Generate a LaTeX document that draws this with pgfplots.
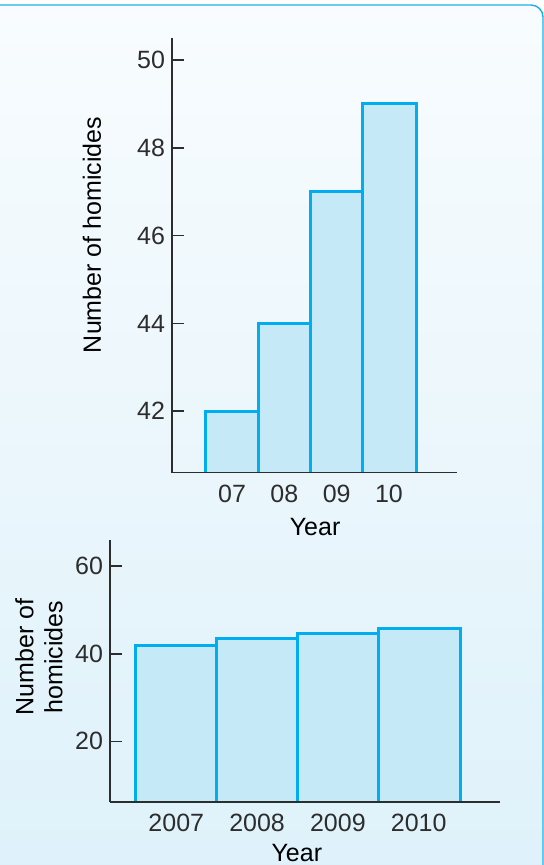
\documentclass[border=0pt]{standalone}
\usepackage{pgfplots}
\pgfplotsset{compat=1.18}
\usepackage{fontspec}
\setmainfont{Liberation Sans}
\definecolor{barfill}{RGB}{198,233,248}
\definecolor{baredge}{RGB}{0,174,239}
\definecolor{axgray}{RGB}{45,45,45}
\definecolor{bgtop}{RGB}{248,252,254}
\definecolor{bgbot}{RGB}{222,241,250}
\definecolor{framec}{RGB}{30,176,236}
\pgfplotsset{
 mystyle/.style={
  scale only axis,
  axis lines=left,
  axis line style={-, draw=axgray, line width=0.8pt},
  axis on top,
  tick align=inside,
  ytick pos=left,
  major tick length=6pt,
  tick style={draw=axgray, line width=0.8pt},
  xtick style={draw=none},
  xtick={0,1,2,3},
  /pgf/number format/assume math mode=true,
  ticklabel style={text=axgray},
  xticklabel style={yshift=-2.5pt},
  label style={text=axgray},
 },
 barsty/.style={fill=barfill, draw=baredge, line width=1.5pt},
}
\begin{document}
\begin{tikzpicture}[font=\fontsize{12.5}{14.5}\selectfont]
\useasboundingbox (0,0) rectangle (272pt,-432.5pt);
\begin{scope}
\clip (0,0) rectangle (272pt,-432.5pt);
\fill[white] (0,0) rectangle (272pt,-432.5pt);
\shadedraw[top color=bgtop, bottom color=bgbot, draw=framec, line width=0.7pt, rounded corners=6pt] (-10pt,-2.5pt) rectangle (271.5pt,-440pt);
\end{scope}
\begin{axis}[mystyle, at={(86pt,-236.35pt)}, anchor=south west,
  width=142.5pt, height=217.35pt,
  xmin=-1.147, xmax=4.30, ymin=40.6, ymax=50.5,
  ytick={42,44,46,48,50},
  xticklabels={07,08,09,10},
  xlabel={Year}, ylabel={Number of homicides},
  every axis x label/.style={at={(axis description cs:0.502,-0.125)},anchor=center},
  every axis y label/.style={at={(axis description cs:-0.281,0.547)},rotate=90,anchor=center}]
% bars: year 07..10 -> 42, 44, 47, 49
\addplot[barsty] coordinates {(-0.5,30) (-0.5,42) (0.5,42) (0.5,30)} --cycle;
\addplot[barsty] coordinates {(0.5,30) (0.5,44) (1.5,44) (1.5,30)} --cycle;
\addplot[barsty] coordinates {(1.5,30) (1.5,47) (2.5,47) (2.5,30)} --cycle;
\addplot[barsty] coordinates {(2.5,30) (2.5,49) (3.52,49) (3.52,30)} --cycle;
\end{axis}
\begin{axis}[mystyle, at={(55pt,-400.85pt)}, anchor=south west,
  width=195pt, height=130.85pt,
  xmin=-0.82, xmax=4.006, ymin=6.2, ymax=66,
  ytick={20,40,60},
  xticklabels={2007,{\raisebox{-2pt}{2008}},2009,2010},
  xlabel={Year}, ylabel={Number of\\homicides},
  every axis x label/.style={at={(axis description cs:0.479,-0.196)},anchor=center},
  every axis y label/.style={at={(axis description cs:-0.182,0.553)},rotate=90,anchor=center,align=center}]
% bars: 2007..2010 -> 42, 43.4, 44.6, 45.8
\addplot[barsty] coordinates {(-0.5,0) (-0.5,42) (0.5,42) (0.5,0)} --cycle;
\addplot[barsty] coordinates {(0.5,0) (0.5,43.4) (1.5,43.4) (1.5,0)} --cycle;
\addplot[barsty] coordinates {(1.5,0) (1.5,44.6) (2.5,44.6) (2.5,0)} --cycle;
\addplot[barsty] coordinates {(2.5,0) (2.5,45.8) (3.52,45.8) (3.52,0)} --cycle;
\end{axis}
\end{tikzpicture}
\end{document}
